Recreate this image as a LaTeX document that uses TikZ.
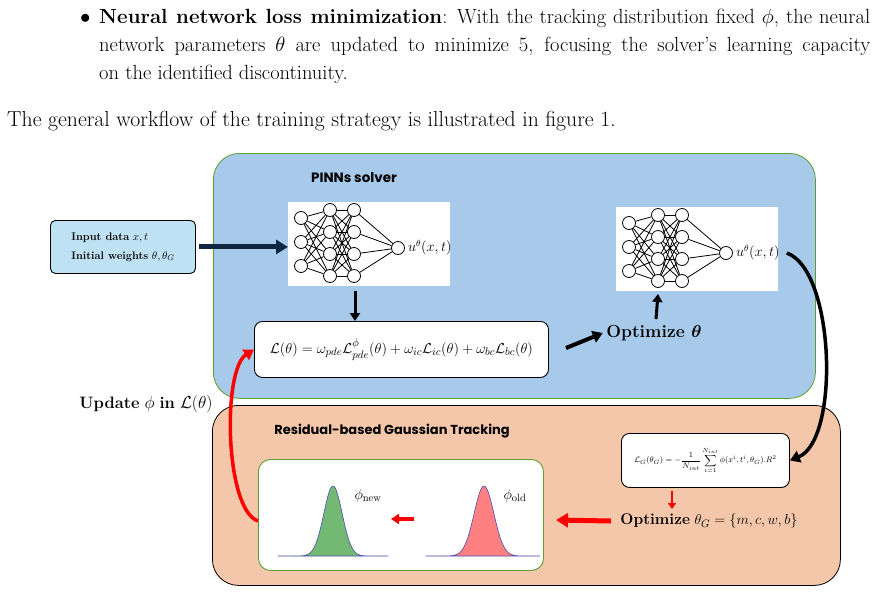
\documentclass[tikz,border=0pt]{standalone}
\usepackage{amsmath,amssymb}
\usepackage{fontspec}
\setsansfont{Poppins}
\usetikzlibrary{arrows.meta,calc}
\tikzset{
  px/.style={x=1pt,y=-1pt},
  neuron/.style={circle,draw,thick,minimum size=13pt,inner sep=0pt,fill=white},
  wire/.style={line width=0.8pt},
  panel/.style={rounded corners=26pt,draw,line width=0.8pt},
  eqbox/.style={rounded corners=8pt,draw,line width=0.9pt,fill=white},
  fat/.style={line width=5pt,-{Triangle[length=12pt,width=14pt]}},
  redfat/.style={fat,red},
  body/.style={font=\fontsize{20.5}{24}\selectfont,anchor=base west,inner sep=0pt}
}
\definecolor{pinn}{HTML}{A7C9EA}
\definecolor{gauss}{HTML}{F5C7AA}
\definecolor{inbox}{HTML}{BEE2F3}
\definecolor{navy}{HTML}{0E2841}
\definecolor{gr}{HTML}{5BA02F}
\newcommand{\nnet}[3]{%
  \node[draw=none,fill=white,minimum width=162pt,minimum height=84pt,anchor=north west,inner sep=0pt] (#1box) at (#2,#3) {};
  \foreach \i/\yy in {1/16,2/40,3/64} \node[neuron] (#1a\i) at ($(#2,#3)+(13,\yy)$) {};
  \foreach \i/\yy in {1/8,2/30,3/52,4/74} \node[neuron] (#1b\i) at ($(#2,#3)+(42,\yy)$) {};
  \foreach \i/\yy in {1/8,2/30,3/52,4/74} \node[neuron] (#1c\i) at ($(#2,#3)+(66,\yy)$) {};
  \node[neuron] (#1o) at ($(#2,#3)+(110,46)$) {};
  \foreach \i in {1,2,3}{\foreach \j in {1,2,3,4}{\draw[wire] (#1a\i)--(#1b\j);}}
  \foreach \i in {1,2,3,4}{\foreach \j in {1,2,3,4}{\draw[wire] (#1b\i)--(#1c\j);}}
  \foreach \i in {1,2,3,4}{\draw[wire] (#1c\i)--(#1o);}
  \node[anchor=west,font=\fontsize{13.5}{15}\selectfont,inner sep=1pt] (#1lbl) at ($(#1o.east)+(2,0)$) {$u^\theta(x,t)$};
}
\begin{document}
\begin{tikzpicture}[px]
\useasboundingbox (0,0) rectangle (875,592);
% text
\node[body] (b) at (80,23) {$\bullet$};
\node[body] (t1) at (99,23) {\hbox to 771pt{\textbf{Neural network loss minimization}: With the tracking distribution fixed $\phi$, the neural}};
\node[body] (t2) at (99,51) {\hbox to 771pt{network parameters $\theta$ are updated to minimize 5, focusing the solver's learning capacity}};
\node[body] (t3) at (99,79) {on the identified discontinuity.};
\node[body,font=\fontsize{21.7}{24}\selectfont] (t4) at (7,126) {The general workflow of the training strategy is illustrated in figure 1.};
% panels
\node[panel,fill=pinn,draw=gr,minimum width=602pt,minimum height=245pt,anchor=north west] (pinn) at (213,153) {};
\node[panel,fill=gauss,draw=black,minimum width=628pt,minimum height=180pt,anchor=north west] (gt) at (212,405) {};
\node[font=\sffamily\bfseries\fontsize{13.5}{15}\selectfont] (pt) at (354,178) {PINNs solver};
\node[font=\sffamily\bfseries\fontsize{13}{15}\selectfont] (gtt) at (392,431) {Residual-based Gaussian Tracking};
% input
\node[eqbox,rounded corners=5pt,fill=inbox,minimum width=145pt,minimum height=53pt,anchor=north west,align=left,font=\fontsize{11}{19}\selectfont] (in) at (50,220) {\textbf{Input data} $x,t$\\ \textbf{Initial weights} $\theta,\theta_G$};
% networks
\nnet{n}{288}{202}
\nnet{m}{616}{207}
\draw[fat,navy] (in.east) ++(3,0) -- (nbox.west|-in.east);
% loss
\node[eqbox,minimum width=294pt,minimum height=56pt,anchor=north west,font=\fontsize{15.3}{18}\selectfont] (loss) at (254,321) {$\mathcal{L}(\theta)=\omega_{pde}\mathcal{L}^{\phi}_{pde}(\theta)+\omega_{ic}\mathcal{L}_{ic}(\theta)+\omega_{bc}\mathcal{L}_{bc}(\theta)$};
\draw[line width=3pt,-{Triangle[length=8pt,width=10pt]}] (355,291) -- (loss.north-|355,0);
\node[font=\bfseries\fontsize{17.5}{19}\selectfont] (opt) at (654,333) {Optimize $\boldsymbol{\theta}$};
\draw[line width=4pt,-{Triangle[length=10pt,width=12pt]}] (566,348) -- (opt.west);
\draw[line width=3pt,-{Triangle[length=8pt,width=10pt]}] (656,319) -- (658,294);
% LG
\node[eqbox,minimum width=168pt,minimum height=54pt,anchor=north west,font=\fontsize{8}{9}\selectfont] (lg) at (621,433) {$\mathcal{L}_G(\theta_G)=-\dfrac{1}{N_{int}}\displaystyle\sum_{i=1}^{N_{int}}\phi(x^i,t^i,\theta_G).R^2$};
% curved black
\draw[line width=3.5pt,-{Triangle[length=10pt,width=12pt]}] (mlbl.east) ++(6,0) .. controls (835,270) and (840,440) .. (lg.east);
\node[font=\fontsize{15.5}{17}\selectfont] (optg) at (709,521) {\textbf{Optimize} $\theta_G=\{m,c,w,b\}$};
\draw[line width=2.5pt,red,-{Triangle[length=6pt,width=8pt]}] (672,491) -- (672,509);
% gaussian box
\node[eqbox,rounded corners=12pt,draw=gr,minimum width=285pt,minimum height=111pt,anchor=north west] (gb) at (258,459) {};
\draw[redfat] (optg.west) ++(-6,0) -- (556,520);
\fill[green!50!black!55!white,draw=gray!60!blue,line width=0.6pt] (278,556) -- plot[domain=278:388,samples=80] (\x,{556-70*exp(-((\x-333)/13)^2)}) -- cycle;
\fill[red!50!white,draw=gray!60!blue,line width=0.6pt] (426,556) -- plot[domain=426:540,samples=80] (\x,{556-70*exp(-((\x-484)/14)^2)}) -- cycle;
\node[font=\fontsize{15}{17}\selectfont] (pn) at (368,496) {$\phi_{\mathrm{new}}$};
\node[font=\fontsize{15}{17}\selectfont] (po) at (515,496) {$\phi_{\mathrm{old}}$};
\draw[line width=4pt,red,-{Triangle[length=8pt,width=10pt]}] (414,519) -- (391,519);
% update arrow
\draw[line width=3.5pt,red,-{Triangle[length=10pt,width=12pt]}] (gb.west|-0,521) .. controls (225,510) and (222,370) .. (loss.west);
\node[font=\fontsize{16.5}{18}\selectfont] (upd) at (146,404) {\textbf{Update} $\phi$ \textbf{in} $\mathcal{L}(\theta)$};
\end{tikzpicture}
\end{document}
